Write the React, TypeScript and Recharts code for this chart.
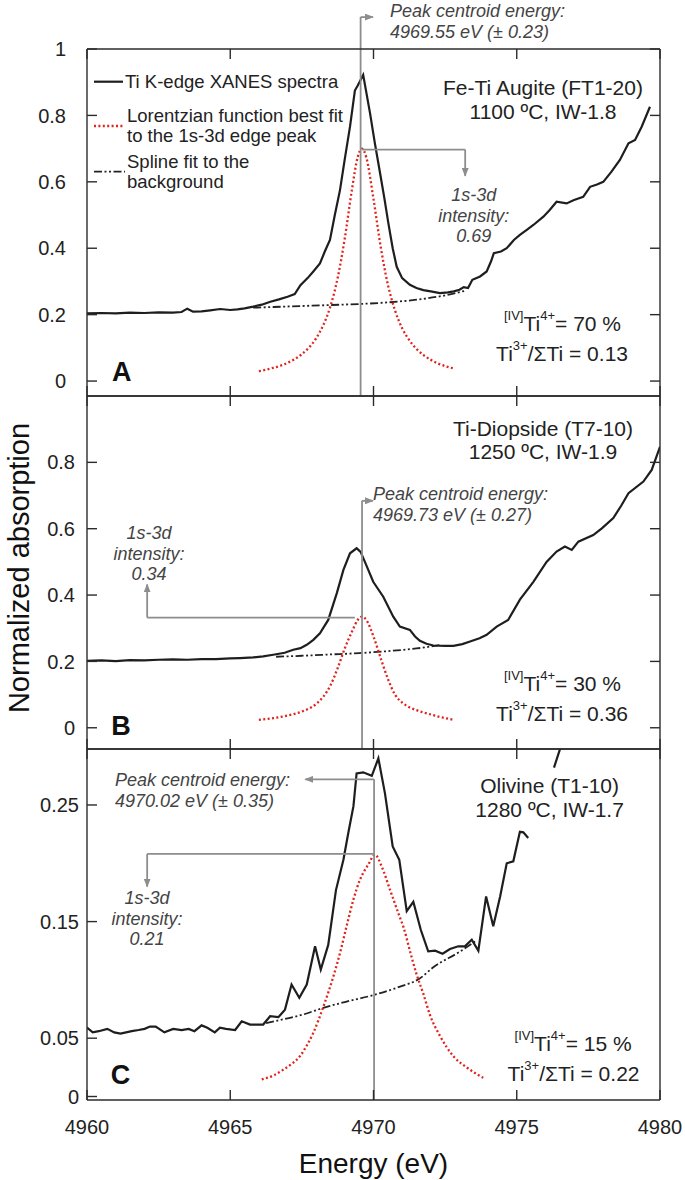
import React from "react";
import { LineChart, Line, XAxis, YAxis, ReferenceLine } from "recharts";

type Pair = [number, number | null];
type Seg = { from: [number, number]; to: [number, number]; head?: boolean };

const FONT = '"Liberation Sans", Arial, Helvetica, sans-serif';
const energyTicks = [4960, 4965, 4970, 4975, 4980];

// A - Fe-Ti augite (FT1-20)
const augiteSpectrum: Pair[] = [
  [4960.0, 0.204], [4960.5, 0.205], [4961.0, 0.204], [4961.5, 0.206], [4962.0, 0.205],
  [4962.5, 0.207], [4963.0, 0.206], [4963.3, 0.208], [4963.5, 0.218], [4963.7, 0.209],
  [4964.0, 0.21], [4964.3, 0.213], [4964.65, 0.217], [4965.0, 0.214], [4965.25, 0.216],
  [4965.5, 0.219], [4965.8, 0.224], [4966.1, 0.23], [4966.4, 0.239], [4966.7, 0.246],
  [4967.0, 0.254], [4967.25, 0.262], [4967.45, 0.289], [4967.7, 0.31], [4967.9, 0.33],
  [4968.13, 0.354], [4968.3, 0.39], [4968.48, 0.425], [4968.65, 0.5], [4968.83, 0.575],
  [4969.0, 0.67], [4969.18, 0.766], [4969.35, 0.875], [4969.45, 0.89], [4969.64, 0.922],
  [4969.88, 0.806], [4970.05, 0.715], [4970.23, 0.626], [4970.38, 0.55], [4970.52, 0.475],
  [4970.67, 0.4], [4970.81, 0.344], [4971.0, 0.31], [4971.27, 0.29], [4971.5, 0.28],
  [4971.74, 0.274], [4972.0, 0.27], [4972.32, 0.265], [4972.6, 0.267], [4972.8, 0.27],
  [4973.0, 0.275], [4973.15, 0.283], [4973.3, 0.28], [4973.45, 0.305], [4973.72, 0.315],
  [4973.95, 0.33], [4974.1, 0.36], [4974.2, 0.385], [4974.45, 0.39], [4974.65, 0.4],
  [4974.9, 0.425], [4975.11, 0.44], [4975.35, 0.455], [4975.58, 0.47], [4975.93, 0.495],
  [4976.15, 0.515], [4976.39, 0.54], [4976.74, 0.535], [4977.0, 0.545], [4977.15, 0.55],
  [4977.32, 0.555], [4977.56, 0.585], [4977.8, 0.592], [4978.02, 0.6], [4978.3, 0.63],
  [4978.6, 0.666], [4978.9, 0.716], [4979.13, 0.726], [4979.36, 0.766], [4979.65, 0.826],
];
const augiteFit: Pair[] = [
  [4966.0, 0.03], [4966.25, 0.034], [4966.5, 0.04], [4966.75, 0.046], [4967.0, 0.055],
  [4967.25, 0.066], [4967.5, 0.081], [4967.75, 0.101], [4968.0, 0.129], [4968.25, 0.169],
  [4968.5, 0.226], [4968.75, 0.311], [4969.0, 0.431], [4969.25, 0.578], [4969.45, 0.675],
  [4969.6, 0.7], [4969.75, 0.673], [4970.0, 0.548], [4970.25, 0.405], [4970.5, 0.291],
  [4970.75, 0.213], [4971.0, 0.159], [4971.25, 0.123], [4971.5, 0.097], [4971.75, 0.078],
  [4972.0, 0.064], [4972.25, 0.053], [4972.5, 0.045], [4972.85, 0.037],
];
const augiteBackground: Pair[] = [
  [4965.8, 0.221], [4966.5, 0.223], [4967.5, 0.226], [4968.5, 0.229], [4969.5, 0.232],
  [4970.5, 0.237], [4971.5, 0.245], [4972.5, 0.258], [4973.2, 0.272],
];

// B - Ti-diopside (T7-10)
const diopsideSpectrum: Pair[] = [
  [4960.0, 0.202], [4960.5, 0.203], [4961.0, 0.201], [4961.5, 0.204], [4962.0, 0.203],
  [4962.5, 0.205], [4963.0, 0.206], [4963.5, 0.205], [4964.0, 0.207], [4964.5, 0.207],
  [4965.0, 0.209], [4965.34, 0.21], [4965.8, 0.212], [4966.15, 0.215], [4966.5, 0.22],
  [4966.9, 0.226], [4967.2, 0.235], [4967.45, 0.24], [4967.67, 0.25], [4967.9, 0.265],
  [4968.13, 0.285], [4968.42, 0.325], [4968.72, 0.406], [4968.95, 0.476], [4969.18, 0.526],
  [4969.41, 0.541], [4969.55, 0.53], [4969.7, 0.5], [4969.99, 0.44], [4970.34, 0.395],
  [4970.69, 0.335], [4970.92, 0.305], [4971.27, 0.295], [4971.45, 0.275], [4971.62, 0.262],
  [4971.85, 0.253], [4972.09, 0.248], [4972.5, 0.247], [4972.79, 0.247], [4973.1, 0.252],
  [4973.37, 0.26], [4973.7, 0.27], [4973.95, 0.28], [4974.3, 0.305], [4974.7, 0.325],
  [4975.11, 0.386], [4975.58, 0.44], [4976.04, 0.5], [4976.39, 0.531], [4976.68, 0.546],
  [4976.92, 0.536], [4977.15, 0.561], [4977.67, 0.581], [4977.97, 0.601], [4978.37, 0.632],
  [4978.65, 0.67], [4978.9, 0.707], [4979.42, 0.742], [4979.71, 0.777], [4980.0, 0.847],
];
const diopsideFit: Pair[] = [
  [4966.0, 0.024], [4966.5, 0.029], [4967.0, 0.037], [4967.5, 0.049], [4968.0, 0.072],
  [4968.25, 0.094], [4968.5, 0.128], [4968.75, 0.18], [4969.0, 0.24], [4969.25, 0.29],
  [4969.45, 0.325], [4969.6, 0.335], [4969.75, 0.325], [4970.0, 0.275], [4970.25, 0.21],
  [4970.5, 0.148], [4970.75, 0.1], [4971.0, 0.076], [4971.25, 0.062], [4971.5, 0.053],
  [4972.0, 0.04], [4972.4, 0.031], [4972.8, 0.024],
];
const diopsideBackground: Pair[] = [
  [4966.6, 0.214], [4967.5, 0.217], [4968.5, 0.221], [4969.5, 0.225], [4970.5, 0.231],
  [4971.5, 0.239], [4972.3, 0.249],
];

// C - olivine (T1-10)
const olivineSpectrum: Pair[] = [
  [4960.0, 0.059], [4960.2, 0.055], [4960.41, 0.056], [4960.71, 0.058], [4960.95, 0.055],
  [4961.17, 0.054], [4961.56, 0.056], [4961.8, 0.057], [4962.01, 0.058], [4962.2, 0.06],
  [4962.4, 0.06], [4962.7, 0.055], [4963.01, 0.058], [4963.3, 0.057], [4963.55, 0.058],
  [4963.75, 0.056], [4964.0, 0.061], [4964.2, 0.059], [4964.46, 0.055], [4964.64, 0.059],
  [4964.85, 0.058], [4965.17, 0.057], [4965.4, 0.0645], [4965.69, 0.0617], [4966.15, 0.0617],
  [4966.39, 0.0688], [4966.68, 0.068], [4966.91, 0.0745], [4967.14, 0.096], [4967.41, 0.0846],
  [4967.67, 0.096], [4967.96, 0.1288], [4968.16, 0.1088], [4968.42, 0.13], [4968.69, 0.177],
  [4968.95, 0.203], [4969.12, 0.226], [4969.3, 0.249], [4969.41, 0.277], [4969.64, 0.278],
  [4969.94, 0.275], [4970.17, 0.29], [4970.4, 0.26], [4970.67, 0.2145], [4970.9, 0.203],
  [4971.16, 0.159], [4971.39, 0.167], [4971.65, 0.143], [4971.91, 0.1245], [4972.15, 0.125],
  [4972.41, 0.1225], [4972.67, 0.1265], [4972.96, 0.1288], [4973.19, 0.1288], [4973.43, 0.1345],
  [4973.66, 0.125], [4973.93, 0.1716], [4974.18, 0.146], [4974.42, 0.1716], [4974.65, 0.2],
  [4974.88, 0.2017], [4975.11, 0.227], [4975.23, 0.2265], [4975.4, 0.2217],
  [4975.8, null], // hidden behind the sample label
  [4976.3, 0.282], [4976.8, 0.32],
];
const olivineFit: Pair[] = [
  [4966.1, 0.0146], [4966.5, 0.018], [4966.85, 0.023], [4967.15, 0.028], [4967.43, 0.0345],
  [4967.7, 0.045], [4967.9, 0.0546], [4968.25, 0.077], [4968.6, 0.103], [4968.83, 0.123],
  [4969.06, 0.146], [4969.3, 0.169], [4969.53, 0.186], [4969.82, 0.199], [4970.05, 0.2074],
  [4970.29, 0.197], [4970.58, 0.177], [4970.9, 0.155], [4971.05, 0.145], [4971.27, 0.125],
  [4971.5, 0.105], [4971.74, 0.088], [4971.97, 0.07], [4972.32, 0.052], [4972.79, 0.0345],
  [4973.25, 0.025], [4973.83, 0.016],
];
const olivineBackground: Pair[] = [
  [4966.25, 0.063], [4967.0, 0.067], [4967.5, 0.07], [4968.25, 0.076], [4969.0, 0.081],
  [4970.0, 0.087], [4970.9, 0.094], [4971.6, 0.101], [4972.1, 0.111], [4973.0, 0.124],
  [4973.55, 0.133],
];

const toPoints = (pairs: Pair[]) => pairs.map(([e, v]) => ({ e, v }));

const ink = "#2b2b2b";
const frame = { stroke: ink, strokeWidth: 1.4 };
const grey = "#8d8d8d";

interface PanelProps {
  top: number;
  height: number;
  margin: { top: number; right: number; bottom: number; left: number };
  yDomain: [number, number];
  yTicks: number[];
  labelGap: number;
  rightTicks: boolean;
  energyLabels: boolean;
  xHeight: number;
  spectrum: Pair[];
  fit: Pair[];
  background: Pair[];
  arrows: Seg[];
}

function Panel(p: PanelProps) {
  const tickFont = { fill: "#222", fontSize: 20, fontFamily: FONT };
  return (
    <div style={{ position: "absolute", left: 0, top: p.top }}>
      <LineChart width={685} height={p.height} margin={p.margin}>
        <XAxis
          xAxisId="b"
          type="number"
          dataKey="e"
          domain={[4960, 4980]}
          ticks={energyTicks}
          interval={0}
          allowDataOverflow
          height={p.xHeight}
          stroke={ink}
          tickSize={-10}
          tickMargin={30}
          tick={tickFont}
          tickFormatter={p.energyLabels ? (t: number) => String(t) : () => ""}
          axisLine={frame}
          tickLine={frame}
        />
        <XAxis
          xAxisId="t"
          orientation="top"
          type="number"
          dataKey="e"
          domain={[4960, 4980]}
          ticks={energyTicks}
          interval={0}
          allowDataOverflow
          height={1}
          stroke={ink}
          tickSize={-10}
          tickFormatter={() => ""}
          axisLine={frame}
          tickLine={frame}
        />
        <YAxis
          yAxisId="l"
          type="number"
          domain={p.yDomain}
          ticks={p.yTicks}
          interval={0}
          allowDataOverflow
          width={1}
          stroke={ink}
          tickSize={-10}
          tickMargin={p.labelGap}
          tick={tickFont}
          tickFormatter={(t: number) => String(t)}
          axisLine={frame}
          tickLine={frame}
        />
        <YAxis
          yAxisId="r"
          orientation="right"
          type="number"
          domain={p.yDomain}
          ticks={p.yTicks}
          interval={0}
          allowDataOverflow
          width={1}
          stroke={ink}
          tickSize={-10}
          tickFormatter={() => ""}
          axisLine={frame}
          tickLine={p.rightTicks ? frame : false}
        />
        <Line
          xAxisId="b"
          yAxisId="l"
          data={toPoints(p.background)}
          dataKey="v"
          type="monotone"
          stroke="#222"
          strokeWidth={1.8}
          strokeDasharray="8 2.5 2 2.5 2 2.5"
          dot={false}
          isAnimationActive={false}
        />
        <Line
          xAxisId="b"
          yAxisId="l"
          data={toPoints(p.fit)}
          dataKey="v"
          type="monotone"
          stroke="#e0231c"
          strokeWidth={2.3}
          strokeDasharray="2 2.4"
          dot={false}
          isAnimationActive={false}
        />
        <Line
          xAxisId="b"
          yAxisId="l"
          data={toPoints(p.spectrum)}
          dataKey="v"
          type="linear"
          stroke="#1e1e1e"
          strokeWidth={2.2}
          dot={false}
          connectNulls={false}
          isAnimationActive={false}
        />
        {p.arrows.map((a, i) => (
          <ReferenceLine
            key={i}
            xAxisId="b"
            yAxisId="l"
            segment={[
              { x: a.from[0], y: a.from[1] },
              { x: a.to[0], y: a.to[1] },
            ]}
            ifOverflow="visible"
            stroke={grey}
            strokeWidth={1.8}
            markerEnd={a.head ? "url(#arrowHead)" : undefined}
          />
        ))}
      </LineChart>
    </div>
  );
}

const note = { fontFamily: FONT, fontStyle: "italic" as const, fill: "#444", fontSize: 18 };
const main = { fontFamily: FONT, fill: "#222", fontSize: 21 };

function Ratio({ x, y, pct }: { x: number; y: number; pct: string }) {
  return (
    <text x={x} y={y} textAnchor="end" dominantBaseline="central" {...main}>
      <tspan fontSize={13} dy={-8}>[IV]</tspan>
      <tspan dy={8}>Ti</tspan>
      <tspan fontSize={13} dy={-8}>4+</tspan>
      <tspan dy={8}>{`= ${pct} %`}</tspan>
    </text>
  );
}

function Fraction({ x, y, val }: { x: number; y: number; val: string }) {
  return (
    <text x={x} y={y} textAnchor="end" dominantBaseline="central" {...main}>
      <tspan>Ti</tspan>
      <tspan fontSize={13} dy={-8}>3+</tspan>
      <tspan dy={8}>{`/ΣTi = ${val}`}</tspan>
    </text>
  );
}

function Note3({ x, y, val }: { x: number; y: number; val: string }) {
  return (
    <g>
      <text x={x} y={y} textAnchor="middle" dominantBaseline="central" {...note}>1s-3d</text>
      <text x={x} y={y + 21} textAnchor="middle" dominantBaseline="central" {...note}>intensity:</text>
      <text x={x} y={y + 41} textAnchor="middle" dominantBaseline="central" {...note}>{val}</text>
    </g>
  );
}

function Centroid({ x, y, val }: { x: number; y: number; val: string }) {
  return (
    <g>
      <text x={x} y={y} dominantBaseline="central" {...note}>Peak centroid energy:</text>
      <text x={x} y={y + 21} dominantBaseline="central" {...note}>{val}</text>
    </g>
  );
}

function Overlay() {
  const legendText = { fontFamily: FONT, fill: "#222", fontSize: 18.5 };
  return (
    <svg
      width={685}
      height={1180}
      style={{ position: "absolute", left: 0, top: 0, pointerEvents: "none" }}
    >
      {/* legend */}
      <line x1={94} x2={123} y1={81.7} y2={81.7} stroke="#1e1e1e" strokeWidth={2.2} />
      <text x={125} y={81.7} dominantBaseline="central" {...legendText}>Ti K-edge XANES spectra</text>
      <line x1={94} x2={123} y1={126} y2={126} stroke="#e0231c" strokeWidth={2.3} strokeDasharray="2 2.4" />
      <text x={127} y={115} dominantBaseline="central" {...legendText}>Lorentzian function best fit</text>
      <text x={127} y={135} dominantBaseline="central" {...legendText}>to the 1s-3d edge peak</text>
      <line x1={94} x2={125} y1={171.7} y2={171.7} stroke="#222" strokeWidth={1.8} strokeDasharray="8 2.5 2 2.5 2 2.5" />
      <text x={127} y={161.7} dominantBaseline="central" {...legendText}>Spline fit to the</text>
      <text x={127} y={181.7} dominantBaseline="central" {...legendText}>background</text>

      {/* sample labels */}
      <text x={543} y={87.3} textAnchor="middle" dominantBaseline="central" {...main}>Fe-Ti Augite (FT1-20)</text>
      <text x={543} y={111.7} textAnchor="middle" dominantBaseline="central" {...main}>1100 ºC, IW-1.8</text>
      <text x={543} y={428.3} textAnchor="middle" dominantBaseline="central" {...main}>Ti-Diopside (T7-10)</text>
      <text x={543} y={451.7} textAnchor="middle" dominantBaseline="central" {...main}>1250 ºC, IW-1.9</text>
      <text x={549.6} y={785} textAnchor="middle" dominantBaseline="central" {...main}>Olivine (T1-10)</text>
      <text x={549.6} y={809.3} textAnchor="middle" dominantBaseline="central" {...main}>1280 ºC, IW-1.7</text>

      <Ratio x={621} y={322.7} pct="70" />
      <Fraction x={628} y={353.3} val="0.13" />
      <Ratio x={621} y={683.3} pct="30" />
      <Fraction x={628} y={713.3} val="0.36" />
      <Ratio x={631.6} y={1042.7} pct="15" />
      <Fraction x={639.5} y={1073.3} val="0.22" />

      {/* panel letters */}
      <text x={121.7} y={371.7} textAnchor="middle" dominantBaseline="central" fontFamily={FONT} fontWeight="bold" fontSize={27} fill="#111">A</text>
      <text x={121} y={726} textAnchor="middle" dominantBaseline="central" fontFamily={FONT} fontWeight="bold" fontSize={27} fill="#111">B</text>
      <text x={120.6} y={1075} textAnchor="middle" dominantBaseline="central" fontFamily={FONT} fontWeight="bold" fontSize={27} fill="#111">C</text>

      {/* annotations */}
      <Centroid x={390} y={11} val="4969.55 eV (± 0.23)" />
      <Note3 x={473.7} y={195} val="0.69" />
      <Centroid x={373} y={494} val="4969.73 eV (± 0.27)" />
      <Note3 x={149} y={532.7} val="0.34" />
      <Centroid x={115} y={780} val="4970.02 eV (± 0.35)" />
      <Note3 x={147} y={898.3} val="0.21" />

      {/* axis titles */}
      <text
        x={19}
        y={568}
        transform="rotate(-90 19 568)"
        textAnchor="middle"
        dominantBaseline="central"
        fontFamily={FONT}
        fontSize={29}
        fill="#111"
      >
        Normalized absorption
      </text>
      <text x={373.5} y={1163} textAnchor="middle" dominantBaseline="central" fontFamily={FONT} fontSize={28} fill="#111">
        Energy (eV)
      </text>
    </svg>
  );
}

export default function App() {
  return (
    <div style={{ position: "absolute", left: 0, top: 0, width: 685, height: 1180, background: "#fff" }}>
      <svg width={0} height={0} style={{ position: "absolute" }}>
        <defs>
          <marker
            id="arrowHead"
            markerWidth={9}
            markerHeight={7}
            refX={8}
            refY={3.5}
            orient="auto"
            markerUnits="userSpaceOnUse"
          >
            <path d="M0,0 L9,3.5 L0,7 Z" fill={grey} />
          </marker>
        </defs>
      </svg>
      <Panel
        top={0}
        height={400}
        margin={{ top: 48, right: 24, bottom: 3, left: 86 }}
        yDomain={[-0.045, 1]}
        yTicks={[0, 0.2, 0.4, 0.6, 0.8, 1]}
        labelGap={31}
        rightTicks
        energyLabels={false}
        xHeight={1}
        spectrum={augiteSpectrum}
        fit={augiteFit}
        background={augiteBackground}
        arrows={[
          { from: [4969.55, -0.045], to: [4969.55, 1.096] },
          { from: [4969.55, 1.096], to: [4969.98, 1.096], head: true },
          { from: [4969.6, 0.697], to: [4973.2, 0.697] },
          { from: [4973.2, 0.697], to: [4973.2, 0.618], head: true },
        ]}
      />
      <Panel
        top={390}
        height={365}
        margin={{ top: 5, right: 24, bottom: 5, left: 86 }}
        yDomain={[-0.064, 1.0]}
        yTicks={[0, 0.2, 0.4, 0.6, 0.8]}
        labelGap={22}
        rightTicks
        energyLabels={false}
        xHeight={1}
        spectrum={diopsideSpectrum}
        fit={diopsideFit}
        background={diopsideBackground}
        arrows={[
          { from: [4969.6, -0.064], to: [4969.6, 0.684] },
          { from: [4969.6, 0.684], to: [4969.98, 0.684], head: true },
          { from: [4969.35, 0.332], to: [4962.1, 0.332] },
          { from: [4962.1, 0.332], to: [4962.1, 0.432], head: true },
        ]}
      />
      <Panel
        top={743}
        height={437}
        margin={{ top: 5, right: 24, bottom: 30, left: 86 }}
        yDomain={[-0.003, 0.298]}
        yTicks={[0, 0.05, 0.15, 0.25]}
        labelGap={18}
        rightTicks={false}
        energyLabels
        xHeight={50}
        spectrum={olivineSpectrum}
        fit={olivineFit}
        background={olivineBackground}
        arrows={[
          { from: [4970.02, -0.003], to: [4970.02, 0.272] },
          { from: [4970.02, 0.272], to: [4967.62, 0.272], head: true },
          { from: [4970.05, 0.208], to: [4962.1, 0.208] },
          { from: [4962.1, 0.208], to: [4962.1, 0.18], head: true },
        ]}
      />
      <Overlay />
    </div>
  );
}
